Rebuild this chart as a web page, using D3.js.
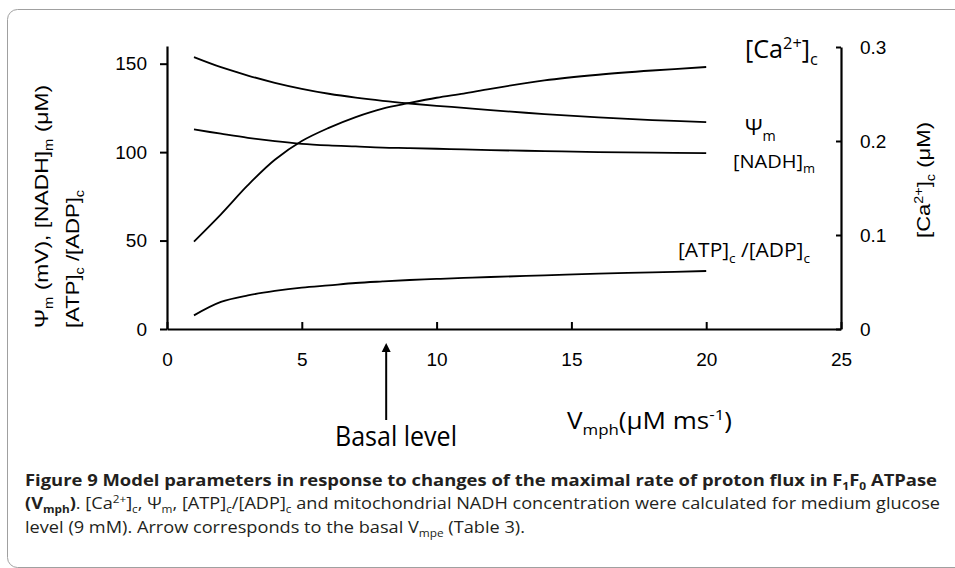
<!DOCTYPE html>
<html><head><meta charset="utf-8">
<script src="https://cdn.jsdelivr.net/npm/d3@7"></script>
<style>
html,body{margin:0;padding:0;background:#fff;}
svg{display:block;}
</style></head>
<body><svg id="chart" width="955" height="568"></svg>
<script>
// ---- data ----
const vmph = [1,2,3,4,5,6,7,8,9,10,11,12,14,16,18,20];
const caC  = [0.093,0.122,0.153,0.180,0.200,0.214,0.2255,0.2345,0.2405,0.246,0.2505,0.2555,0.2645,0.2705,0.275,0.2787];
const psiM = [153.7,148.0,143.3,139.2,135.8,133.0,130.8,129.0,127.5,126.2,125.0,123.8,121.5,119.6,118.1,117.0];
const nadhM = [112.8,110.4,108.1,106.2,104.7,103.8,103.2,102.6,102.3,101.9,101.5,101.1,100.6,100.0,99.7,99.4];
const atpAdp = [7.7,15.3,19.0,21.5,23.4,24.7,26.0,26.9,27.7,28.3,28.9,29.4,30.3,31.3,32.0,32.8];
const xTicks = [0,5,10,15,20,25];
const leftTicks = [0,50,100,150];
const rightTicks = [0,0.1,0.2,0.3];
const basalVmph = 8.13;

// ---- setup ----
const svg = d3.select('#chart');
const ARIAL = "'Liberation Sans', Arial, sans-serif";
const CAL = "'Open Sans', 'Noto Sans', sans-serif";

svg.append('rect').attr('x',7.5).attr('y',9.5).attr('width',1000).attr('height',558)
  .attr('rx',10).attr('fill','none').attr('stroke','#a0a0a0').attr('stroke-width',1);

const x = d3.scaleLinear().domain([0,25]).range([167,841]);
const yL = d3.scaleLinear().domain([0,160]).range([329,46]);
const yR = d3.scaleLinear().domain([0,0.3]).range([329,47]);

function rich(sel, segs, size){
  let shift = 0;
  segs.forEach(s=>{
    const txt = Array.isArray(s)?s[0]:s;
    const kind = Array.isArray(s)?s[1]:null;
    const target = kind==='sub'? size*0.28 : kind==='sup'? -size*0.38 : 0;
    const ts = sel.append('tspan').text(txt).attr('dy', target-shift);
    if(kind) ts.attr('font-size', size*0.65);
    if(Array.isArray(s) && s[2]) ts.attr('font-weight', s[2]);
    shift = target;
  });
  return sel;
}

// axes
const gL = svg.append('g').attr('transform',`translate(${x(0)},0)`)
  .call(d3.axisLeft(yL).tickValues(leftTicks).tickSizeInner(7).tickSizeOuter(0).tickPadding(13));
const gR = svg.append('g').attr('transform',`translate(${x(25)},0)`)
  .call(d3.axisRight(yR).tickValues(rightTicks).tickFormat(d=>d===0?'0':d3.format('.1f')(d))
    .tickSizeInner(-5).tickSizeOuter(0).tickPadding(19));
const gB = svg.append('g').attr('transform',`translate(0,${yL(0)})`)
  .call(d3.axisBottom(x).tickValues(xTicks).tickSizeInner(-7).tickSizeOuter(0).tickPadding(24));
[gL,gR,gB].forEach(g=>{
  g.select('.domain').attr('stroke','#000').attr('stroke-width',2.2);
  g.selectAll('.tick line').attr('stroke','#000').attr('stroke-width',2);
  g.selectAll('.tick text').attr('font-family',ARIAL).attr('font-size',19).attr('fill','#000');
});

// curves
const line = y => d3.line().x((d,i)=>x(vmph[i])).y(d=>y(d)).curve(d3.curveCatmullRom.alpha(0.5));
[[caC,yR],[psiM,yL],[nadhM,yL],[atpAdp,yL]].forEach(([arr,sc])=>{
  svg.append('path').datum(arr).attr('d',line(sc)).attr('fill','none')
    .attr('stroke','#000').attr('stroke-width',1.8);
});

// series labels
rich(svg.append('text').attr('x',818).attr('y',58).attr('text-anchor','end')
  .attr('font-family',CAL).attr('font-size',25).attr('textLength',73).attr('lengthAdjust','spacingAndGlyphs'),
  ['[Ca',['2+','sup'],']',['c','sub']],25);
rich(svg.append('text').attr('x',745).attr('y',135)
  .attr('font-family',CAL).attr('font-size',22),
  ['Ψ',['m','sub']],22);
rich(svg.append('text').attr('x',733).attr('y',168)
  .attr('font-family',CAL).attr('font-size',19).attr('textLength',82).attr('lengthAdjust','spacingAndGlyphs'),
  ['[NADH]',['m','sub']],19);
rich(svg.append('text').attr('x',678).attr('y',257)
  .attr('font-family',CAL).attr('font-size',20).attr('textLength',132).attr('lengthAdjust','spacingAndGlyphs'),
  ['[ATP]',['c','sub'],' /[ADP]',['c','sub']],20);

// axis titles
rich(svg.append('text').attr('transform','translate(48,328) rotate(-90)')
  .attr('font-family',ARIAL).attr('font-size',19).attr('textLength',243).attr('lengthAdjust','spacingAndGlyphs'),
  ['Ψ',['m','sub'],' (mV), [NADH]',['m','sub'],' (μM)'],19);
rich(svg.append('text').attr('transform','translate(79,328) rotate(-90)')
  .attr('font-family',ARIAL).attr('font-size',19).attr('textLength',138).attr('lengthAdjust','spacingAndGlyphs'),
  ['[ATP]',['c','sub'],' /[ADP]',['c','sub']],19);
rich(svg.append('text').attr('transform','translate(930,238) rotate(-90)')
  .attr('font-family',ARIAL).attr('font-size',19).attr('textLength',116).attr('lengthAdjust','spacingAndGlyphs'),
  ['[Ca',['2+','sup'],']',['c','sub'],' (μM)'],19);
rich(svg.append('text').attr('x',567).attr('y',429)
  .attr('font-family',CAL).attr('font-size',23).attr('textLength',165).attr('lengthAdjust','spacingAndGlyphs'),
  ['V',['mph','sub'],'(μM ms',['-1','sup'],')'],23);

// basal arrow
const ax = x(basalVmph);
svg.append('line').attr('x1',ax).attr('x2',ax).attr('y1',420).attr('y2',350)
  .attr('stroke','#000').attr('stroke-width',2);
svg.append('path').attr('d',`M${ax},343 L${ax-4.5},352 L${ax+4.5},352 Z`).attr('fill','#000');
svg.append('text').attr('x',335).attr('y',446).attr('font-family',CAL).attr('font-size',27)
  .attr('textLength',122).attr('lengthAdjust','spacingAndGlyphs').text('Basal level');

// caption
const cap = svg.append('g').attr('font-family',CAL).attr('fill','#231f20');
rich(cap.append('text').attr('x',25).attr('y',486).attr('font-size',16).attr('font-weight','bold')
  .attr('textLength',912).attr('lengthAdjust','spacingAndGlyphs'),
  ['Figure 9 Model parameters in response to changes of the maximal rate of proton flux in F',['1','sub'],'F',['0','sub'],' ATPase'],16);
rich(cap.append('text').attr('x',25).attr('y',509).attr('font-size',16)
  .attr('textLength',915).attr('lengthAdjust','spacingAndGlyphs'),
  [['(V',null,'bold'],['mph','sub','bold'],[')',null,'bold'],'. [Ca',['2+','sup'],']',['c','sub'],', Ψ',['m','sub'],', [ATP]',['c','sub'],'/[ADP]',['c','sub'],' and mitochondrial NADH concentration were calculated for medium glucose'],16);
rich(cap.append('text').attr('x',25).attr('y',533).attr('font-size',16)
  .attr('textLength',500).attr('lengthAdjust','spacingAndGlyphs'),
  ['level (9 mM). Arrow corresponds to the basal V',['mpe','sub'],' (Table 3).'],16);
</script></body></html>
